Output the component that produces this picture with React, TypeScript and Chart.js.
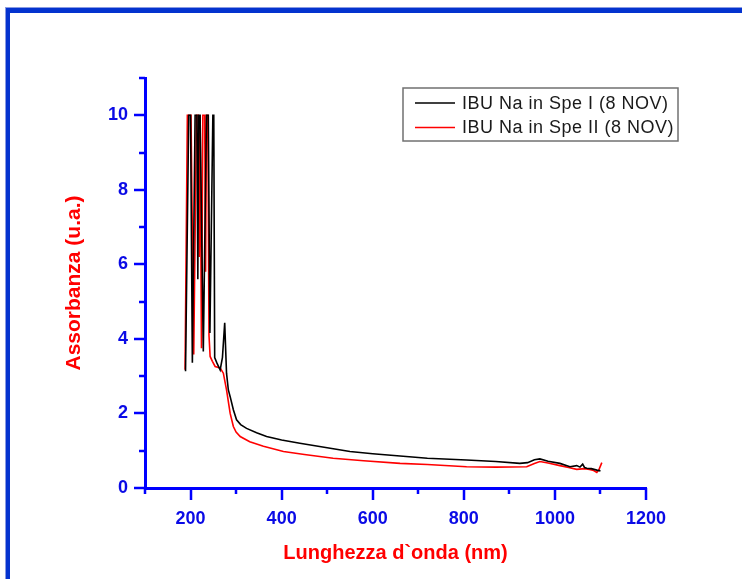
import { useEffect, useRef } from 'react';
import { Chart, registerables } from 'chart.js';

Chart.register(...registerables);

// Spectrum of IBU Na in Spe I (wavelength in nm, absorbance in u.a.)
const wavelengthSpeI = [
  189, 196, 200, 204, 210, 214, 216, 218, 221, 228, 235, 239, 242.5, 249, 251, 253, 258, 265, 270,
  275, 279, 283, 287, 294, 301, 310, 323, 345, 367, 400, 440, 500, 550, 600, 660, 720, 806, 870, 923,
  940, 955, 967, 985, 1011, 1033, 1048, 1055, 1061, 1065, 1070, 1080, 1092, 1100,
];
const absorbanceSpeI = [
  3.13, 10, 10, 3.36, 10, 10, 5.6, 10, 10, 3.66, 10, 10, 4.16, 10, 10, 3.5, 3.35, 3.17, 3.5,
  4.43, 3.08, 2.63, 2.45, 2.1, 1.83, 1.7, 1.6, 1.48, 1.38, 1.29, 1.2, 1.08, 0.98, 0.92, 0.86, 0.8,
  0.75, 0.71, 0.66, 0.68, 0.76, 0.78, 0.72, 0.66, 0.57, 0.6, 0.56, 0.64, 0.55, 0.53, 0.52, 0.48,
  0.46,
];

// Spectrum of IBU Na in Spe II
const wavelengthSpeII = [
  188, 193, 201, 207, 213, 217, 219, 221, 224, 227, 231, 233, 235, 238, 240.5, 243, 248, 254, 265,
  272, 279, 287, 294, 300, 309, 330, 360, 404, 450, 513, 580, 660, 720, 806, 870, 938, 955, 967, 985,
  1011, 1030, 1048, 1065, 1076, 1085, 1092, 1097, 1103,
];
const absorbanceSpeII = [
  3.17, 10, 10, 3.58, 10, 10, 6.2, 10, 3.75, 10, 10, 5.8, 10, 10, 4.1, 3.53, 3.4, 3.26, 3.22,
  3.08, 2.63, 2.0, 1.65, 1.5, 1.38, 1.24, 1.12, 0.98, 0.9, 0.8, 0.73, 0.66, 0.63, 0.57, 0.56, 0.57,
  0.66, 0.71, 0.67, 0.6, 0.55, 0.5, 0.52, 0.5, 0.47, 0.42, 0.5, 0.68,
];

const seriesLabels = ['IBU Na in Spe I (8 NOV)', 'IBU Na in Spe II (8 NOV)'];
const seriesColors = ['#000000', '#ff0000'];
const xTitle = 'Lunghezza d`onda (nm)';
const yTitle = 'Assorbanza (u.a.)';

const X_MIN = 100;
const X_MAX = 1200;
const Y_MIN = 0;
const Y_MAX = 11;

const AXIS_BLUE = '#0000ff';
const LABEL_BLUE = '#0a0ae6';
const TITLE_RED = '#ff0000';
const FRAME_BLUE = '#0433cf';
const FONT = '"Liberation Sans", Arial, Helvetica, sans-serif';

const WIDTH = 742;
const HEIGHT = 579;

// Page frame: thick blue rule along the top and left edges
const framePlugin = {
  id: 'frame',
  beforeDraw(chart: any) {
    const { ctx } = chart;
    ctx.save();
    ctx.fillStyle = '#ffffff';
    ctx.fillRect(0, 0, chart.width, chart.height);
    ctx.fillStyle = '#8a9be2';
    ctx.fillRect(5, 7, chart.width - 5, 1);
    ctx.fillRect(5, 7, 1, chart.height - 7);
    ctx.fillStyle = FRAME_BLUE;
    ctx.fillRect(6, 8, chart.width - 6, 5);
    ctx.fillRect(6, 8, 4, chart.height - 8);
    ctx.restore();
  },
};

// Outward tick marks: long at labelled values, short in between
const tickMarksPlugin = {
  id: 'tickMarks',
  afterDraw(chart: any) {
    const { ctx, chartArea } = chart;
    const xs = chart.scales.x;
    const ys = chart.scales.y;
    ctx.save();
    ctx.strokeStyle = AXIS_BLUE;
    ctx.lineWidth = 2.5;
    ctx.beginPath();
    for (let v = Y_MIN; v <= Y_MAX; v += 1) {
      const py = Math.round(ys.getPixelForValue(v));
      const len = v % 2 === 0 ? 11 : 6;
      ctx.moveTo(chartArea.left, py);
      ctx.lineTo(chartArea.left - len, py);
    }
    for (let v = X_MIN; v <= X_MAX; v += 100) {
      const px = Math.round(xs.getPixelForValue(v));
      const len = v % 200 === 0 ? 12 : 6;
      ctx.moveTo(px, chartArea.bottom);
      ctx.lineTo(px, chartArea.bottom + len);
    }
    ctx.stroke();
    ctx.restore();
  },
};

// Boxed legend in the upper right of the plot
const boxLegendPlugin = {
  id: 'boxLegend',
  afterDraw(chart: any) {
    const { ctx, chartArea } = chart;
    const boxRight = chartArea.right + 32;
    const boxLeft = chartArea.right - 243;
    const boxTop = chartArea.top + 10;
    const rowH = 24.5;
    const boxH = 53;
    ctx.save();
    ctx.strokeStyle = '#707070';
    ctx.lineWidth = 1.5;
    ctx.strokeRect(boxLeft, boxTop, boxRight - boxLeft, boxH);
    ctx.font = `18px ${FONT}`;
    (ctx as any).letterSpacing = '0.5px';
    ctx.textBaseline = 'middle';
    ctx.textAlign = 'left';
    seriesLabels.forEach((label, i) => {
      const y = boxTop + 15 + i * rowH;
      ctx.strokeStyle = seriesColors[i];
      ctx.lineWidth = 1.5;
      ctx.beginPath();
      ctx.moveTo(boxLeft + 12, y);
      ctx.lineTo(boxLeft + 52, y);
      ctx.stroke();
      ctx.fillStyle = '#1a1a1a';
      ctx.fillText(label, boxLeft + 59, y + 1);
    });
    ctx.restore();
  },
};

export default function App() {
  const canvasRef = useRef<HTMLCanvasElement | null>(null);

  useEffect(() => {
    const canvas = canvasRef.current;
    if (!canvas) return;

    const chart = new Chart(canvas, {
      type: 'line',
      data: {
        datasets: [
          {
            label: seriesLabels[0],
            data: wavelengthSpeI.map((x, i) => ({ x, y: absorbanceSpeI[i] })),
            borderColor: seriesColors[0],
            borderWidth: 1.6,
            pointRadius: 0,
            tension: 0,
          },
          {
            label: seriesLabels[1],
            data: wavelengthSpeII.map((x, i) => ({ x, y: absorbanceSpeII[i] })),
            borderColor: seriesColors[1],
            borderWidth: 1.6,
            pointRadius: 0,
            tension: 0,
          },
        ],
      },
      options: {
        responsive: false,
        animation: false,
        devicePixelRatio: 1,
        layout: { padding: { left: 0, top: 78, right: 96, bottom: 0 } },
        plugins: {
          legend: { display: false },
          tooltip: { enabled: false },
        },
        scales: {
          x: {
            type: 'linear',
            min: X_MIN,
            max: X_MAX,
            grid: { display: false, drawTicks: false },
            border: { display: true, color: AXIS_BLUE, width: 3 },
            ticks: {
              stepSize: 100,
              autoSkip: false,
              maxRotation: 0,
              padding: 20,
              color: LABEL_BLUE,
              font: { family: FONT, size: 18, weight: 'bold' },
              callback: (v: any) => (Number(v) % 200 === 0 ? String(v) : ''),
            },
            title: {
              display: true,
              text: xTitle,
              color: TITLE_RED,
              font: { family: FONT, size: 20, weight: 'bold' },
              padding: { top: 0, bottom: 14 },
            },
            afterFit: (scale: any) => {
              scale.height = 91;
            },
          },
          y: {
            type: 'linear',
            min: Y_MIN,
            max: Y_MAX,
            grid: { display: false, drawTicks: false },
            border: { display: true, color: AXIS_BLUE, width: 3 },
            ticks: {
              stepSize: 1,
              autoSkip: false,
              padding: 17,
              color: LABEL_BLUE,
              font: { family: FONT, size: 18, weight: 'bold' },
              callback: (v: any) => (Number(v) % 2 === 0 ? String(v) : ''),
            },
            title: {
              display: true,
              text: yTitle,
              color: TITLE_RED,
              font: { family: FONT, size: 21, weight: 'bold' },
              padding: { top: 62, bottom: 0 },
            },
            afterFit: (scale: any) => {
              scale.width = 145;
            },
          },
        },
      },
      plugins: [framePlugin, tickMarksPlugin, boxLegendPlugin],
    });

    return () => chart.destroy();
  }, []);

  return (
    <div style={{ position: 'absolute', left: 0, top: 0, width: WIDTH, height: HEIGHT }}>
      <canvas ref={canvasRef} width={WIDTH} height={HEIGHT} style={{ display: 'block' }} />
    </div>
  );
}
